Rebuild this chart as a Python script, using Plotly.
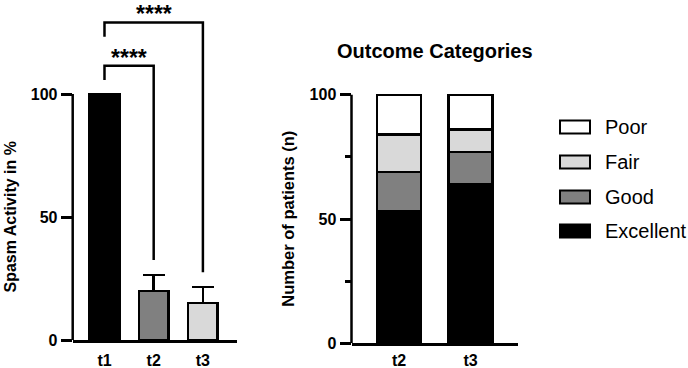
import plotly.graph_objects as go

W, H = 688, 368
FONT = "Liberation Sans, Arial, Helvetica, sans-serif"

# ---------------- data ----------------
# Left panel: spasm activity (%)
left_cats = ["t1", "t2", "t3"]
left_vals = [100, 20, 15]
left_err = [None, 6.5, 6.5]
left_colors = ["#000000", "#808080", "#d9d9d9"]

# significance brackets (index pairs) and labels
sig_pairs = [(0, 1), (0, 2)]
sig_labels = ["****", "****"]
sig_tops = [111.5, 129.1]

# Right panel: outcome categories (n)
right_cats = ["t2", "t3"]
excellent = [53, 64]
good = [16, 13]
fair = [15, 9]
poor = [16, 14]
outcome_names = ["Excellent", "Good", "Fair", "Poor"]
outcome_colors = ["#000000", "#808080", "#d9d9d9", "#ffffff"]


def px_x(p):
    return p / W


def px_y(p):
    return 1 - p / H


fig = go.Figure()

# left bars
lx = list(range(len(left_cats)))
fig.add_trace(go.Bar(
    x=lx, y=left_vals, width=0.6,
    marker=dict(color=left_colors, line=dict(color="black", width=2.5)),
    error_y=dict(type="data", symmetric=False, array=left_err,
                 arrayminus=[0] * len(left_vals), color="black",
                 thickness=2.5, width=11),
    xaxis="x", yaxis="y", showlegend=False, hoverinfo="skip",
))

# right stacked bars
rx = list(range(len(right_cats)))
for name, vals, col in zip(outcome_names, [excellent, good, fair, poor], outcome_colors):
    fig.add_trace(go.Bar(
        x=rx, y=vals, width=0.615, name=name,
        marker=dict(color=col, line=dict(color="black", width=2.5)),
        xaxis="x2", yaxis="y2", showlegend=False,
    ))

shapes = []
annotations = []

# y-axis lines (0..100)
shapes.append(dict(type="line", xref="x domain", yref="y", x0=0, x1=0, y0=0, y1=100,
                   line=dict(color="black", width=2.5)))
shapes.append(dict(type="line", xref="x2 domain", yref="y2", x0=0, x1=0, y0=0, y1=100,
                   line=dict(color="black", width=2.5)))

# significance brackets
for (i, j), lab, top in zip(sig_pairs, sig_labels, sig_tops):
    yl = top - 5.8
    err_j = left_err[j] if left_err[j] is not None else 0
    yr = left_vals[j] + err_j + 6
    shapes.append(dict(type="path", xref="x", yref="y",
                       path=f"M {i},{yl} L {i},{top} L {j},{top} L {j},{yr}",
                       line=dict(color="black", width=2.5)))
    annotations.append(dict(x=(i + j) / 2, y=top, xref="x", yref="y", text=lab,
                            showarrow=False, xanchor="center", yanchor="bottom", yshift=-7,
                            font=dict(family=FONT, size=23, color="black", weight="bold")))

# y-axis titles
annotations.append(dict(x=px_x(10), y=px_y(217.5), xref="paper", yref="paper",
                        text="Spasm Activity in %", textangle=-90, showarrow=False,
                        xanchor="center", yanchor="middle",
                        font=dict(family=FONT, size=16, color="black", weight="bold")))
annotations.append(dict(x=px_x(288), y=px_y(218.7), xref="paper", yref="paper",
                        text="Number of patients (n)", textangle=-90, showarrow=False,
                        xanchor="center", yanchor="middle",
                        font=dict(family=FONT, size=16.5, color="black", weight="bold")))
# right panel title
annotations.append(dict(x=px_x(435), y=px_y(51), xref="paper", yref="paper",
                        text="Outcome Categories", showarrow=False,
                        xanchor="center", yanchor="middle",
                        font=dict(family=FONT, size=20, color="black", weight="bold")))

# manual legend (top item = last stacked)
leg_y = [127, 162, 197, 231]
for k, yc in enumerate(leg_y):
    idx = len(outcome_names) - 1 - k
    shapes.append(dict(type="rect", xref="paper", yref="paper",
                       x0=px_x(560), x1=px_x(590), y0=px_y(yc + 6.5), y1=px_y(yc - 6.5),
                       fillcolor=outcome_colors[idx], line=dict(color="black", width=2)))
    annotations.append(dict(x=px_x(603), y=px_y(yc), xref="paper", yref="paper",
                            text=outcome_names[idx], showarrow=False, xanchor="left",
                            yanchor="middle",
                            font=dict(family=FONT, size=20, color="black")))

tickfont = dict(family=FONT, size=16, color="black", weight="bold")

fig.update_layout(
    width=W, height=H,
    margin=dict(l=0, r=0, t=0, b=0),
    paper_bgcolor="white", plot_bgcolor="white",
    barmode="stack",
    shapes=shapes, annotations=annotations,
    xaxis=dict(domain=[px_x(72.7), px_x(237)], range=[-0.646, 2.693],
               tickvals=lx, ticktext=left_cats, tickfont=tickfont,
               showline=True, linecolor="black", linewidth=2.5, ticks="",
               ticklabelstandoff=4, automargin=False,
               showgrid=False, zeroline=False, fixedrange=True),
    yaxis=dict(domain=[px_y(340), 1], range=[0, 340 / 2.46],
               tickvals=[0, 50, 100], tickfont=tickfont, ticks="outside",
               ticklen=11, tickwidth=2.5, tickcolor="black", automargin=False,
               showline=False, showgrid=False, zeroline=False, fixedrange=True),
    xaxis2=dict(domain=[px_x(351.5), px_x(518)], range=[-0.664, 1.664],
                anchor="y2", tickvals=rx, ticktext=right_cats, tickfont=tickfont,
                showline=True, linecolor="black", linewidth=2.5, ticks="",
                ticklabelstandoff=1, automargin=False,
                showgrid=False, zeroline=False, fixedrange=True),
    yaxis2=dict(domain=[px_y(343.3), px_y(343.3 - 104 * 2.485)], range=[0, 104],
                anchor="x2", tickvals=[0, 50, 100], tickfont=tickfont, ticks="outside",
                ticklen=11, tickwidth=2.5, tickcolor="black", automargin=False,
                minor=dict(tickvals=[25, 75], ticks="outside", ticklen=6,
                           tickwidth=2.5, tickcolor="black"),
                showline=False, showgrid=False, zeroline=False, fixedrange=True),
)

fig.write_html("out.html")
